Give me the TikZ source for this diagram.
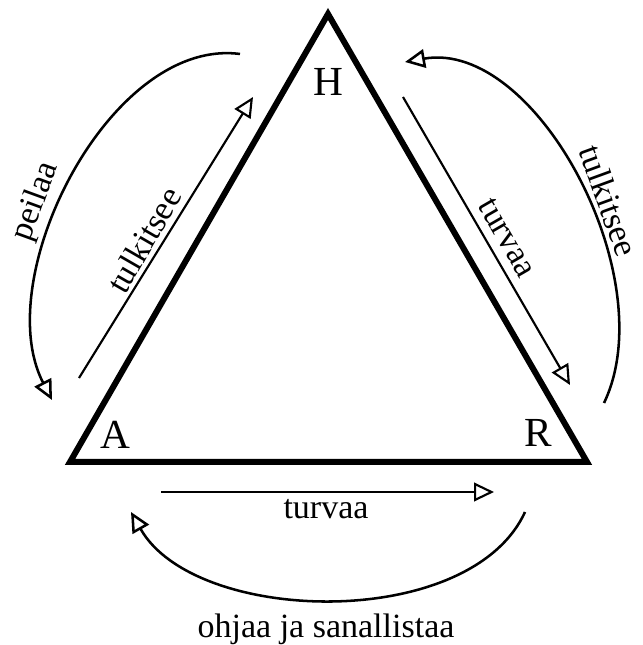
\documentclass[tikz,border=0pt]{standalone}
\usepackage{fontspec}
\setmainfont{Liberation Serif}
\usetikzlibrary{arrows.meta}

\begin{document}
\begin{tikzpicture}[x=0.75pt, y=0.75pt,
    >={Triangle[open, length=15pt, width=14pt]},
    kylki/.style={line width=4.5pt, line join=miter},
    nuoli/.style={->, line width=1.6pt},
    kaari/.style={->, line width=1.9pt},
    teksti/.style={font=\fontsize{25.5}{28}\selectfont, inner sep=0pt},
    kulma/.style={font=\fontsize{31}{34}\selectfont, inner sep=0pt}]

    \useasboundingbox (0,0) rectangle (642,645);

    % Kolmio
    \coordinate (A) at (70,183);
    \coordinate (R) at (587,183);
    \coordinate (H) at (328,631);
    \draw[kylki] (A) -- (R) -- (H) -- cycle;
    \node[kulma] (lH) at (328,563) {H};
    \node[kulma] (lA) at (115,210) {A};
    \node[kulma] (lR) at (538,212) {R};

    % Suorat nuolet sivujen vieressa
    \coordinate (a1) at (79,267);
    \coordinate (h1) at (253,548);
    \coordinate (h2) at (403,548);
    \coordinate (r2) at (570,260);
    \coordinate (a3) at (161,153);
    \coordinate (r3) at (494,153);
    \draw[nuoli] (a1) -- (h1);
    \draw[nuoli] (h2) -- (r2);
    \draw[nuoli] (a3) -- (r3);
    \node[teksti, rotate=60]  (t1) at (144,405) {tulkitsee};
    \node[teksti, rotate=-60] (t2) at (507,407) {turvaa};
    \node[teksti]             (t3) at (326,136) {turvaa};

    % Kaaret ulkopuolella
    \coordinate (p0) at (240,591);
    \coordinate (p1) at (52,245);
    \coordinate (q0) at (604,242);
    \coordinate (q1) at (405,583);
    \coordinate (s0) at (525,133);
    \coordinate (s1) at (131,133);
    \draw[kaari] (p0) .. controls (110,608) and (-11,367) .. (p1);
    \draw[kaari] (q0) .. controls (664,367) and (536,606) .. (q1);
    \draw[kaari] (s0) .. controls (470,13) and (195,20) .. (s1);
    \node[teksti, rotate=70]  (k1) at (36,443) {peilaa};
    \node[teksti, rotate=-70] (k2) at (609,444) {tulkitsee};
    \node[teksti]             (k3) at (326,16) {ohjaa ja sanallistaa};
\end{tikzpicture}
\end{document}
